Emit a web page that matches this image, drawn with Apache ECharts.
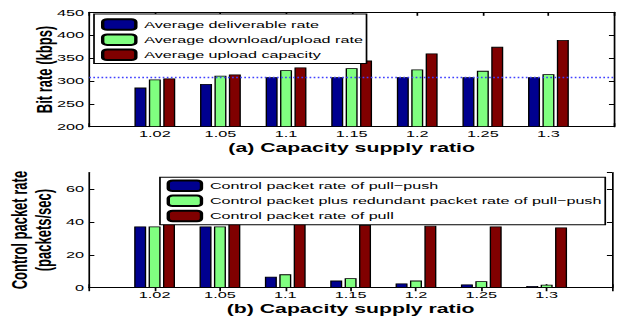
<!DOCTYPE html>
<html>
<head>
<meta charset="utf-8">
<script src="https://cdn.jsdelivr.net/npm/echarts@6/dist/echarts.min.js"></script>
<style>
html,body{margin:0;padding:0;background:#fff;overflow:hidden;}
#wrap{width:622px;height:320px;overflow:hidden;position:relative;}
#c{position:absolute;left:0;top:0;height:320px;transform-origin:0 0;}
</style>
</head>
<body>
<div id="wrap"><div id="c"></div></div>
<script>
// ---- data ----
const categories = ['1.02', '1.05', '1.1', '1.15', '1.2', '1.25', '1.3'];
const avgDeliverable = [285.5, 293.5, 308, 308, 308, 308, 308];
const avgDownUpload = [303, 311.5, 323.5, 328, 325, 322, 314.5];
const avgUploadCap = [305.5, 314, 329.5, 344.5, 360, 374.5, 389.5];
const refRate = 308;
const ctrlPullPush = [37.2, 37.2, 6.7, 4.3, 2.6, 2.0, 1.0];
const ctrlRedundantPullPush = [37.2, 37.2, 8.1, 5.7, 4.3, 3.9, 1.8];
const ctrlPull = [41.5, 39.8, 39.2, 38.2, 37.6, 37.2, 36.6];
const namesA = ['Average deliverable rate', 'Average download/upload rate', 'Average upload capacity'];
const namesB = ['Control packet rate of pull\u2212push', 'Control packet plus redundant packet rate of pull\u2212push', 'Control packet rate of pull'];
const titleA = '(a) Capacity supply ratio';
const titleB = '(b) Capacity supply ratio';
const yNameA = 'Bit rate (kbps)';
const yNameB = 'Control packet rate\n(packets/sec)';
const yRangeA = [200, 450, 50];
const yRangeB = [0, 70, 20];

// ---- layout (chart drawn narrow, then stretched horizontally like the reference) ----
const S = 1.7;
const W = 622 / S;
const dom = document.getElementById('c');
dom.style.width = W + 'px';
dom.style.transform = 'scaleX(' + S + ')';

const FONT = 'Liberation Sans, Arial, Helvetica, sans-serif';
const colors = ['#00008f', '#80ff80', '#800000'];
const cats = [''].concat(categories, ['']);
const pad = arr => [null].concat(arr, [null]);

function xAxes(gi, title) {
  return [{
    type: 'category', gridIndex: gi, data: cats, boundaryGap: false, position: 'bottom',
    axisLine: {lineStyle: {color: '#000', width: 1}},
    axisTick: {inside: true, length: 3.5, lineStyle: {color: '#000'}},
    axisLabel: {color: '#000', fontSize: 9.6, fontFamily: FONT, margin: 2, interval: 0},
    name: title, nameLocation: 'middle', nameGap: 14.5, nameMoveOverlap: false,
    nameTextStyle: {color: '#000', fontSize: 12.5, fontWeight: 'bold', fontFamily: FONT},
    splitLine: {show: false}
  }, {
    type: 'category', gridIndex: gi, data: cats, boundaryGap: false, position: 'top',
    axisLine: {lineStyle: {color: '#000', width: 1}},
    axisTick: {inside: true, length: 3.5, lineStyle: {color: '#000'}},
    axisLabel: {show: false}, splitLine: {show: false}
  }];
}
function yAxes(gi, r, name, gap, lh) {
  return [{
    type: 'value', gridIndex: gi, min: r[0], max: r[1], interval: r[2], position: 'left',
    axisLine: {show: true, lineStyle: {color: '#000', width: 1}},
    axisTick: {show: true, inside: true, length: 3, lineStyle: {color: '#000'}},
    axisLabel: {color: '#000', fontSize: 9.6, fontFamily: FONT, margin: 3, showMaxLabel: r[1] % r[2] === 0},
    splitLine: {show: false},
    name: name, nameLocation: 'middle', nameGap: gap, nameMoveOverlap: false,
    nameTextStyle: {color: '#000', fontSize: 13, fontWeight: 'bold', fontFamily: FONT, lineHeight: lh}
  }, {
    type: 'value', gridIndex: gi, min: r[0], max: r[1], interval: r[2], position: 'right',
    axisLine: {show: true, lineStyle: {color: '#000', width: 1}},
    axisTick: {show: true, inside: true, length: 3, lineStyle: {color: '#000'}},
    axisLabel: {show: false}, splitLine: {show: false}
  }];
}
function bars(names, datas, xi, yi) {
  return names.map((n, i) => ({
    name: n, type: 'bar', xAxisIndex: xi, yAxisIndex: yi,
    data: pad(datas[i]), barWidth: 7.06, barGap: '20%',
    itemStyle: {color: colors[i], borderColor: '#000', borderWidth: 0.8},
    emphasis: {disabled: true}, animation: false
  }));
}

const refStyle = {color: '#4040ff', type: [1, 1.4], width: 1.3, opacity: 1};
const seriesA = bars(namesA, [avgDeliverable, avgDownUpload, avgUploadCap], 0, 0);
seriesA[0].markLine = {
  silent: true, symbol: 'none', label: {show: false}, animation: false,
  lineStyle: refStyle, emphasis: {disabled: true},
  data: [{yAxis: refRate, lineStyle: refStyle}]
};
const seriesB = bars(namesB, [ctrlPullPush, ctrlRedundantPullPush, ctrlPull], 2, 2);

const legendBase = {
  orient: 'vertical', itemWidth: 19.5, itemHeight: 10.5, itemGap: 2.6,
  textStyle: {color: '#000', fontSize: 9.5, fontFamily: FONT},
  borderColor: '#000', borderWidth: 1, backgroundColor: '#fff', borderRadius: 0,
  selectedMode: false, z: 10
};

const gridBase = {containLabel: false, outerBoundsMode: 'none'};
const chart = echarts.init(dom, null, {renderer: 'svg'});
chart.setOption({
  animation: false,
  color: colors,
  grid: [
    Object.assign({left: 52.5, top: 12.3, width: 308.7, height: 114.4}, gridBase),
    Object.assign({left: 52.5, top: 172.5, width: 307.5, height: 115.2}, gridBase)
  ],
  xAxis: xAxes(0, titleA).concat(xAxes(1, titleB)),
  yAxis: yAxes(0, yRangeA, yNameA, 18.5, 15).concat(yAxes(1, yRangeB, yNameB, 20, 14)),
  legend: [
    Object.assign({}, legendBase, {data: namesA, left: 55.3, top: 14, padding: [4.3, 2, 2.4, 4.1]}),
    Object.assign({}, legendBase, {data: namesB, left: 94.1, top: 177.3, padding: [2.2, 2, 2.6, 3.9]})
  ],
  series: seriesA.concat(seriesB)
});
</script>
</body>
</html>
